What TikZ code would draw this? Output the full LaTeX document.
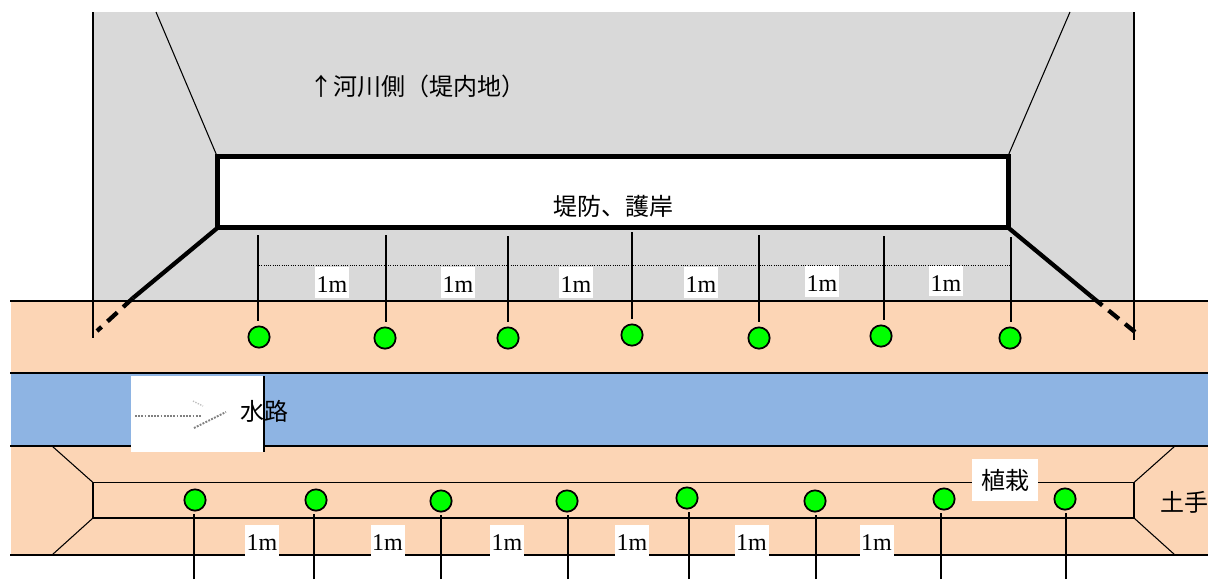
\documentclass[tikz,border=0pt]{standalone}
\usepackage{fontspec}
\setmainfont{Liberation Serif}
\newfontfamily\cjk{Noto Sans CJK JP}
\definecolor{bankgray}{HTML}{D9D9D9}
\definecolor{sandpeach}{HTML}{FCD5B5}
\definecolor{waterblue}{HTML}{8EB4E3}
\definecolor{treegreen}{HTML}{00FF00}
\tikzset{
    x=0.75pt, y=-0.75pt,
    tree/.style={circle, draw, fill=treegreen, line width=1.3pt, minimum size=16pt, inner sep=0pt},
    meter/.style={fill=white, inner sep=0pt, minimum width=25.5pt, minimum height=23pt, text height=15.6pt, text depth=0pt, font=\fontsize{18}{18}\selectfont},
    caption/.style={inner sep=0pt, font=\cjk\fontsize{18}{18}\selectfont},
    edge line/.style={line width=1.1pt},
    fine line/.style={line width=0.8pt},
    stem/.style={line width=1.3pt},
    bank line/.style={line width=3.2pt}
}
\begin{document}
\begin{tikzpicture}
    \useasboundingbox (0,0) rectangle (1208,579);
    % Ground
    \fill[bankgray] (93,12) rectangle (1134,301);
    \fill[sandpeach] (11,301) rectangle (1208,373);
    \fill[waterblue] (11,373) rectangle (1208,446);
    \fill[sandpeach] (11,446) rectangle (1208,555);

    % Road and channel edges
    \draw[edge line] (93,12) -- (93,338);
    \draw[edge line] (1134,12) -- (1134,340);
    \draw[edge line] (10,301) -- (1208,301);
    \draw[edge line] (10,373) -- (1208,373);
    \draw[edge line] (10,446) -- (1208,446);
    \draw[line width=1.6pt] (10,555) -- (1208,555);

    % Levee
    \draw[fine line] (156,12) -- (217,156);
    \draw[fine line] (1070,12) -- (1008,156);
    \node[draw, fill=white, line width=3.4pt, outer sep=0pt, inner sep=0pt, minimum width=593pt, minimum height=53.6pt] (levee) at (613,192) {};
    \node[caption] (leveelabel) at (613,206) {堤防、護岸};
    \coordinate (leftfoot) at (133,298);
    \coordinate (leftend) at (97,331);
    \coordinate (rightfoot) at (1092,297);
    \coordinate (rightend) at (1135,332);
    \draw[bank line] (levee.south west) -- (leftfoot);
    \draw[bank line, dash pattern=on 10pt off 6pt] (leftfoot) -- (leftend);
    \draw[bank line] (levee.south east) -- (rightfoot);
    \draw[bank line, dash pattern=on 10pt off 6pt] (rightfoot) -- (rightend);
    \node[caption] (river) at (417,86) {↑河川側（堤内地）};

    % Planting strip
    \draw[edge line] (93,482.5) rectangle (1134,518);
    \draw[fine line] (52,446) -- (93,482.5);
    \draw[fine line] (52,555) -- (93,518);
    \draw[fine line] (1175,446) -- (1134,482.5);
    \draw[fine line] (1175,555) -- (1134,518);

    % Upper row of trees
    \draw[densely dotted, line width=0.7pt] (259,265) -- (1010,265);
    \foreach \name/\x/\y/\stemx/\ytop in {a/259/337/258/235, b/385/338/386/235, c/508/338/508/236, d/632/335/632/232, e/759/338/759/235, f/881/336/884/236, g/1010/338/1011/237}{
        \node[tree] (up\name) at (\x,\y) {};
        \coordinate (uptop\name) at (\stemx,\ytop);
        \draw[stem, shorten >=3pt] (uptop\name) -- (uptop\name |- up\name.north);
    }
    \node[meter] (upma) at (332,282.5) {1m};
    \node[meter] (upmb) at (458,282.5) {1m};
    \node[meter] (upmc) at (576,282.5) {1m};
    \node[meter] (upmd) at (701,282.5) {1m};
    \node[meter] (upme) at (822,281.5) {1m};
    \node[meter] (upmf) at (946,281) {1m};

    % Water
    \node[fill=white, outer sep=0pt, inner sep=0pt, minimum width=100pt, minimum height=57pt] (flowbox) at (197.5,414) {};
    \draw[edge line] (flowbox.north east) -- (flowbox.south east);
    \coordinate (flowtail) at (135,416);
    \coordinate (flowneck) at (202,416);
    \coordinate (flowtip) at (226,412);
    \coordinate (flowlow) at (194,428);
    \coordinate (flowupa) at (193,401);
    \coordinate (flowupb) at (203,406);
    \draw[densely dotted, gray, line width=1.4pt] (flowtail) -- (flowneck);
    \draw[densely dotted, gray, line width=1.4pt] (flowlow) -- (flowtip);
    \draw[densely dotted, lightgray, line width=1pt] (flowupa) -- (flowupb);
    \node[caption] (water) at (264,411) {水路};

    % Lower row of trees
    \foreach \name/\x/\y/\stemx in {a/195/500/194, b/316/500/314, c/441/501/441, d/567/501/568, e/687/498/689, f/815/501/816, g/944/499/941, h/1065/499/1066}{
        \node[tree] (lo\name) at (\x,\y) {};
        \coordinate (lobot\name) at (\stemx,579);
        \draw[stem, shorten >=1.5pt] (lobot\name) -- (lobot\name |- lo\name.south);
    }
    \node[meter] (loma) at (262,540.5) {1m};
    \node[meter] (lomb) at (387.5,540.5) {1m};
    \node[meter] (lomc) at (507,540.5) {1m};
    \node[meter] (lomd) at (632,540.5) {1m};
    \node[meter] (lome) at (751.5,540.5) {1m};
    \node[meter] (lomf) at (876.5,540.5) {1m};

    \node[fill=white, inner sep=0pt, minimum width=49.5pt, minimum height=31pt, font=\cjk\fontsize{18}{18}\selectfont] (planting) at (1005,480) {植栽};
    \node[caption] (bank) at (1184,502) {土手};
\end{tikzpicture}
\end{document}
